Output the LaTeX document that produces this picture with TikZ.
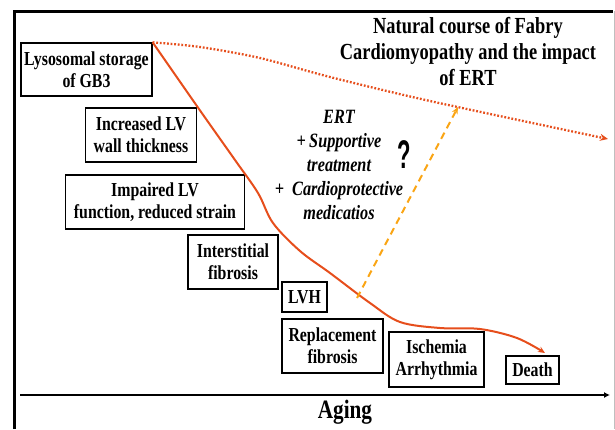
\documentclass[tikz,border=0pt]{standalone}
\usepackage{fontspec}
\usepackage{graphicx}
\setmainfont{Liberation Serif}[FakeStretch=0.8]
\newfontfamily\qfont{Liberation Sans}
\usetikzlibrary{arrows.meta}
\definecolor{cred}{RGB}{230,78,28}
\definecolor{corange}{RGB}{250,165,20}
\begin{document}
\begin{tikzpicture}[x=1pt,y=-1pt,
  box/.style={draw=black, line width=1.3pt, inner sep=0pt, align=center,
    font=\fontsize{19.8}{22}\selectfont\bfseries},
  ital/.style={align=center, font=\fontsize{20.3}{24}\selectfont\bfseries\itshape},
  redline/.style={cred, line width=2pt},
  tip/.style={-{Stealth[length=7pt,width=6pt]}}]
\useasboundingbox (0,0) rectangle (615,429);
% frame
\draw[line width=3pt] (14,429) -- (14,11) -- (613,11);
\draw[gray!50, line width=0.8pt] (614,11) -- (614,429);
% title
\node[font=\fontsize{23}{26}\selectfont\bfseries, align=center] (title) at (468,52)
  {Natural course of Fabry\\Cardiomyopathy and the impact\\of ERT};
% boxes
\node[box, minimum width=131pt, minimum height=53pt] (lys) at (86.5,69.5) {Lysosomal storage\\of GB3};
\node[box, minimum width=111pt, minimum height=54pt] (inc) at (141,135) {Increased LV\\wall thickness};
\node[box, minimum width=179pt, minimum height=54pt] (imp) at (155,202) {Impaired LV\\function, reduced strain};
\node[box, minimum width=90pt, minimum height=54pt] (int) at (233,262) {Interstitial\\fibrosis};
\node[box, minimum width=45pt, minimum height=30pt] (lvh) at (304.5,297) {LVH};
\node[box, minimum width=101pt, minimum height=54pt] (rep) at (332.5,346) {Replacement\\fibrosis};
\node[box, minimum width=95pt, minimum height=55pt] (isc) at (436.5,359.5) {Ischemia\\Arrhythmia};
\node[box, minimum width=53pt, minimum height=28pt] (dea) at (532.5,370) {Death};
% treatment text
\node[ital] (ert) at (339,165) {ERT\\+\,Supportive\\treatment\\+\ \ Cardioprotective\\medicatios};
\node[font=\fontsize{40}{40}\selectfont\qfont\bfseries] (q) at (404,155) {\scalebox{0.55}[1]{?}};
% axis
\coordinate (ax0) at (20,395);
\coordinate (ax1) at (610,395);
\draw[line width=1.8pt, -{Latex[length=6pt,width=6pt]}] (ax0) -- (ax1);
\node[font=\fontsize{26.5}{26}\selectfont\bfseries] (aging) at (345,412) {Aging};
% natural course curve
\coordinate (deathin) at (545,353);
\draw[redline, tip] plot[smooth, tension=0.55] coordinates {(lys.north east) (199,109) (235,160) (258,193) (273,223) (300,251) (330,273) (370,303) (400,322) (440,328) (480,329) (517,338) (deathin)};
% ERT course (dotted)
\coordinate (dotend) at (608,139);
\draw[redline, line width=2.3pt, dash pattern=on 1.8pt off 1.8pt, -{Stealth[length=8pt,width=7pt]}] plot[smooth, tension=0.5] coordinates {(lys.north east) (200,47) (260,58) (330,77) (430,101) (dotend)};
% impact arrow
\coordinate (dstart) at (357,298);
\coordinate (dend) at (458,107);
\draw[corange, line width=2pt, dash pattern=on 7pt off 5pt, tip] (dstart) -- (dend);
\end{tikzpicture}
\end{document}
